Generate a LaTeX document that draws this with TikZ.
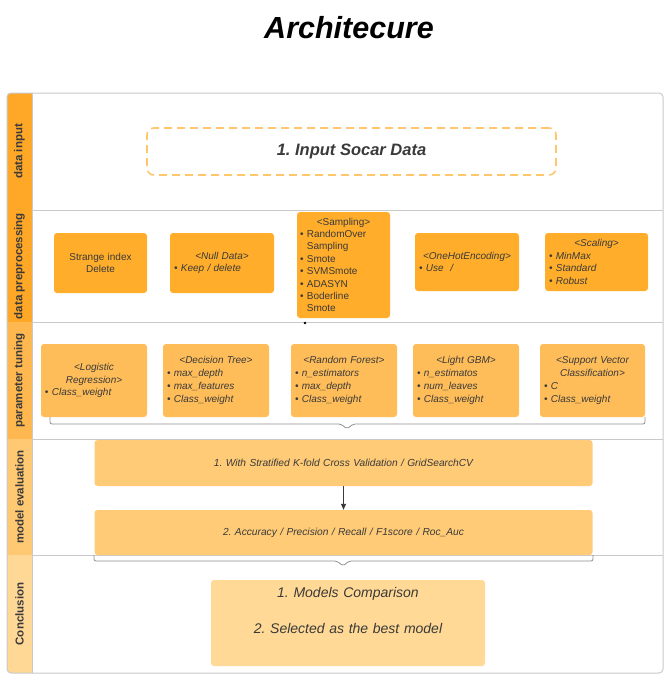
\documentclass[tikz,border=0pt]{standalone}
\usepackage{fontspec}
\setmainfont{Liberation Sans}
\usetikzlibrary{arrows.meta}
\frenchspacing

\definecolor{laneA}{HTML}{FFA726}
\definecolor{laneB}{HTML}{FFB84F}
\definecolor{laneC}{HTML}{FFC974}
\definecolor{laneD}{HTML}{FFD896}
\definecolor{boxA}{HTML}{FFAD2A}
\definecolor{boxB}{HTML}{FFBD59}
\definecolor{boxC}{HTML}{FFCB77}
\definecolor{boxD}{HTML}{FFD995}
\definecolor{dashOr}{HTML}{FFC66E}
\definecolor{frameGray}{HTML}{C9C9C9}
\definecolor{inkGray}{HTML}{3A3A3A}

\newcommand{\itm}{\textbullet\ }
\newcommand{\hd}[1]{{\centering #1\par}}

\tikzset{
  frame/.style={draw=frameGray, line width=1pt},
  lanelabel/.style={rotate=90, text=inkGray, font=\bfseries\fontsize{11.5}{13}\selectfont},
  box/.style={rounded corners=3pt, inner xsep=4pt, inner ysep=2pt, align=left,
    text=inkGray, font=\fontsize{10}{12.4}\selectfont},
  prebox/.style={box, fill=boxA, minimum height=59pt},
  tunebox/.style={box, fill=boxB, minimum height=73pt, text width=98pt,
    font=\itshape\fontsize{10}{12.8}\selectfont},
  evalbox/.style={box, fill=boxC, align=center, minimum height=46pt, text width=490pt,
    font=\itshape\fontsize{10.2}{12}\selectfont},
}

\begin{document}
\begin{tikzpicture}[x=1pt, y=-1pt]
\useasboundingbox (0,0) rectangle (672,681);

% title
\node[font=\bfseries\itshape\fontsize{30.5}{34}\selectfont] (title) at (349,28) {Architecure};

% swim lanes with their headers
\begin{scope}
\clip[rounded corners=4pt] (7,93) rectangle (663,673);
\foreach \top/\bot/\col/\name [count=\i] in {93/210/laneA/data input,
    210/322/laneA/data preprocessing, 322/439/laneB/parameter tuning,
    439/555/laneC/model evaluation, 555/673/laneD/Conclusion}{
  \fill[\col] (7,\top) rectangle (32,\bot);
  \node[lanelabel] (lane\i) at (19.5,{(\top+\bot)/2}) {\name};
  \draw[frame] (7,\bot) -- (663,\bot);
}
\end{scope}
\draw[frame] (32,93) -- (32,673);
\draw[frame, rounded corners=4pt] (7,93) rectangle (663,673);

% data input
\node[draw=dashOr, fill=white, line width=1.6pt, dash pattern=on 8pt off 5pt,
  rounded corners=7pt, minimum width=409pt, minimum height=47pt, text=inkGray,
  font=\bfseries\itshape\fontsize{16.5}{19}\selectfont] (input) at (351.5,151.5) {1. Input Socar Data};

% data preprocessing
\node[prebox, align=center, text width=85pt, minimum height=60pt] (strange) at (100.5,263)
  {Strange index\\Delete};
\node[prebox, text width=96pt, minimum height=60pt, font=\itshape\fontsize{10}{12.4}\selectfont] (null) at (222,263)
  {\hd{<Null Data>}\itm Keep / delete};
\node[prebox, text width=87pt, inner xsep=3pt, minimum height=106pt] (sampling) at (343.5,265)
  {\hd{<Sampling>}\itm RandomOver\\\phantom{\itm}Sampling\\\itm Smote\\\itm SVMSmote\\
   \itm ADASYN\\\itm Boderline\\\phantom{\itm}Smote};
\node[prebox, text width=96pt, minimum height=58pt, font=\itshape\fontsize{10}{12.4}\selectfont] (onehot) at (467,262)
  {\hd{<OneHotEncoding>}\itm Use\ \ /};
\node[prebox, text width=95pt, minimum height=58pt, font=\itshape\fontsize{10}{12.4}\selectfont] (scaling) at (596.5,262)
  {\hd{<Scaling>}\itm MinMax\\\itm Standard\\\itm Robust};
\fill[black] (305,323) circle (1.3pt);

% parameter tuning
\node[tunebox] (logreg) at (94,380.5)
  {\hd{<Logistic\\Regression>}\itm Class\_weight\\[6pt]};
\node[tunebox] (dtree) at (216,380.5)
  {\hd{<Decision Tree>}\itm max\_depth\\\itm max\_features\\\itm Class\_weight};
\node[tunebox] (forest) at (344,380.5)
  {\hd{<Random Forest>}\itm n\_estimators\\\itm max\_depth\\\itm Class\_weight};
\node[tunebox] (lgbm) at (466,380.5)
  {\hd{<Light GBM>}\itm n\_estimatos\\\itm num\_leaves\\\itm Class\_weight};
\node[tunebox, text width=97pt] (svc) at (592.5,380.5)
  {\hd{<Support Vector\\Classification>}\itm C\\\itm Class\_weight};
\draw[frameGray!70!black, line width=0.8pt, rounded corners=2pt]
  (50,417) -- (50,424) -- (341,424) -- (347,429) -- (353,424) -- (645,424) -- (645,417);

% model evaluation
\node[evalbox] (cv) at (343.5,463) {1. With Stratified K-fold Cross Validation / GridSearchCV};
\node[evalbox, minimum height=45pt] (metric) at (343.5,532.5) {2. Accuracy / Precision / Recall / F1score / Roc\_Auc};
\draw[-{Triangle[length=6pt,width=5pt]}, inkGray, line width=0.8pt] (cv) -- (metric);
\draw[frameGray!70!black, line width=0.8pt, rounded corners=2pt]
  (94,555) -- (94,561) -- (337,561) -- (343,566) -- (349,561) -- (593,561) -- (593,555);

% conclusion
\node[box, fill=boxD, align=center, text width=266pt, minimum height=86pt,
  font=\itshape\fontsize{14}{16}\selectfont] (concl) at (348,623)
  {1. Models Comparison\\[20pt]2. Selected as the best model\\[4pt]\strut};

\end{tikzpicture}
\end{document}
